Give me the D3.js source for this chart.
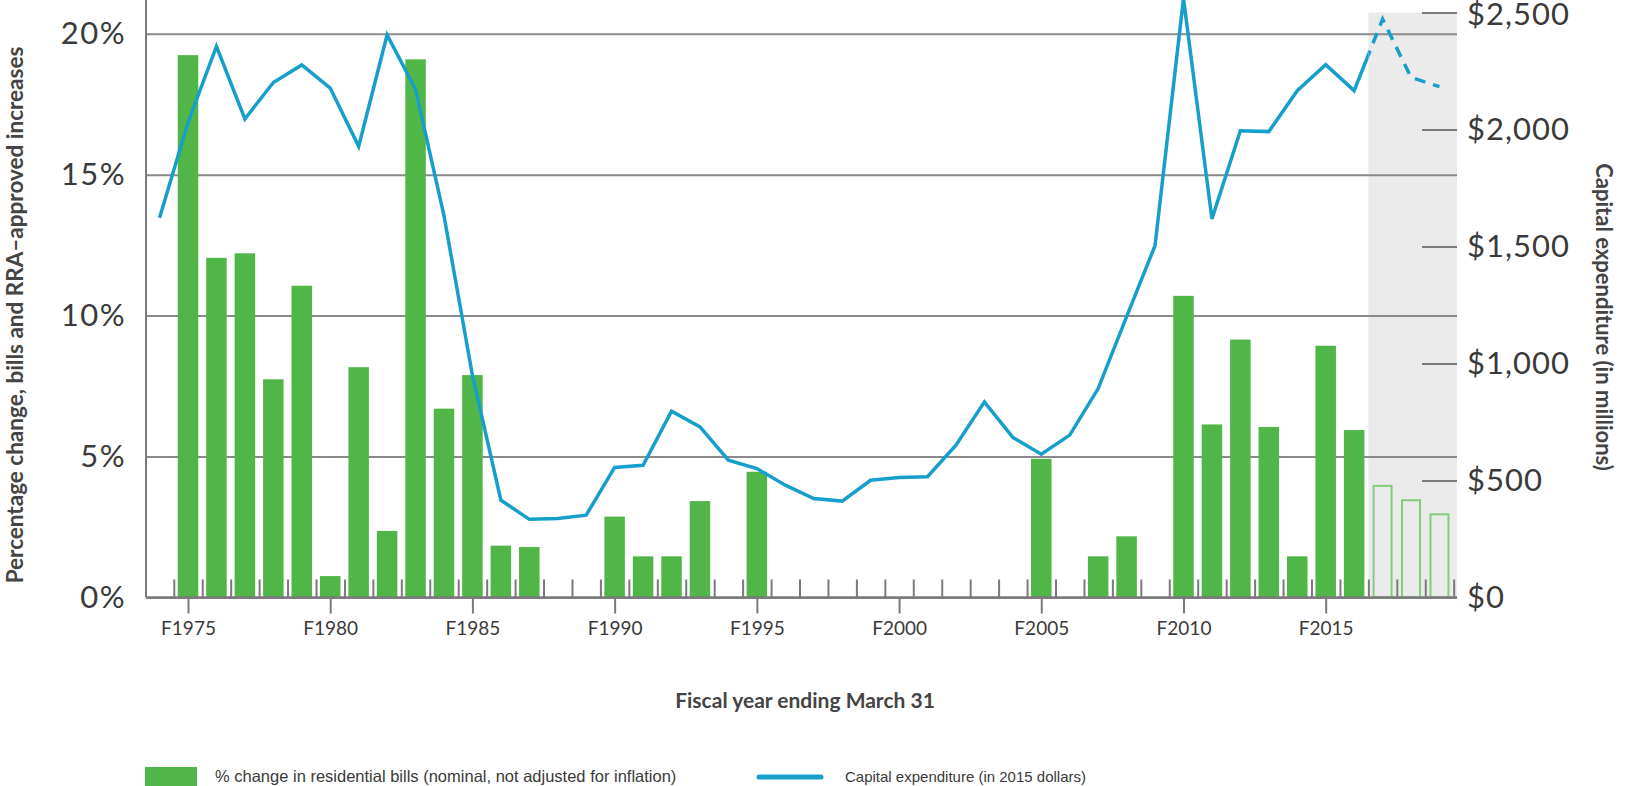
<!DOCTYPE html>
<meta charset="utf-8">
<script src="https://d3js.org/d3.v7.min.js"></script>
<style>
  body { margin: 0; background: #fff; }
  text { font-family: Lato, "Open Sans", sans-serif; fill: #3a3a3a; }
</style>
<div id="my_dataviz"></div>
<script>

  // fiscal years and % change in residential bills (forecast years last)
  var barYears = [1975, 1976, 1977, 1978, 1979, 1980, 1981, 1982, 1983, 1984, 1985, 1986, 1987,
                  1990, 1991, 1992, 1993, 1995, 2005, 2007, 2008, 2010, 2011, 2012, 2013, 2014,
                  2015, 2016, 2017, 2018, 2019];
  var billChange = [19.24, 12.05, 12.21, 7.74, 11.06, 0.76, 8.17, 2.36, 19.09, 6.70, 7.89, 1.84, 1.79,
                    2.87, 1.46, 1.46, 3.42, 4.46, 4.92, 1.46, 2.17, 10.7, 6.14, 9.15, 6.05, 1.46,
                    8.93, 5.94, 3.96, 3.45, 2.95];
  var forecastFrom = 2016.5;

  // capital expenditure, $ millions (2015 dollars)
  var capexYears = d3.range(1974, 2020);
  var capex = [1623, 2030, 2355, 2045, 2201, 2276, 2177, 1928, 2404, 2172, 1632, 950, 416, 334,
               338, 352, 556, 565, 796, 729, 587, 551, 480, 423, 412, 501, 513, 516, 651, 836,
               684, 612, 694, 893, 1200, 1504, 2560, 1618, 1995, 1991, 2166, 2277, 2166, 2472,
               2223, 2183];

  var pctTicks = [0, 5, 10, 15, 20];
  var dollarTicks = [0, 500, 1000, 1500, 2000, 2500];
  var majorYears = [1975, 1980, 1985, 1990, 1995, 2000, 2005, 2010, 2015];
  var minorYears = d3.range(1974.5, 2020, 1);

  var width = 1646, height = 786;
  var left = 146, right = 1457, base = 597.5;

  var svg = d3.select("#my_dataviz")
    .append("svg")
      .attr("width", width)
      .attr("height", height);

  var x = d3.scaleLinear().domain([1975, 2015]).range([188, 1325.7]);
  var yPct = d3.scaleLinear().domain([0, 20]).range([base, 33.7]);
  var yCap = d3.scaleLinear().domain([0, 2500]).range([base, 12.5]);

  // forecast shading
  svg.append("rect")
    .attr("x", x(forecastFrom))
    .attr("y", yCap(2500))
    .attr("width", right - x(forecastFrom))
    .attr("height", base - yCap(2500))
    .style("fill", "#ebebeb");

  // left axis with gridlines
  var gy = svg.append("g")
    .attr("transform", "translate(" + left + ",0)")
    .call(d3.axisLeft(yPct).tickValues(pctTicks).tickSize(-(right - left)).tickPadding(20)
      .tickFormat(function(d) { return d + "%"; }));
  gy.select(".domain").remove();
  gy.selectAll("line").style("stroke", "#8a8a8a").style("stroke-width", 2);
  gy.selectAll("text").style("font-size", "31px").style("fill", "#3a3a3a").style("letter-spacing", "1.5px");

  svg.append("line")
    .attr("x1", left).attr("x2", left).attr("y1", 0).attr("y2", base)
    .style("stroke", "#7a7a7a").style("stroke-width", 2);

  // right axis
  var gr = svg.append("g")
    .attr("transform", "translate(1422,0)")
    .call(d3.axisRight(yCap).tickValues(dollarTicks).tickSize(35).tickPadding(10)
      .tickFormat(d3.format("$,")));
  gr.select(".domain").remove();
  gr.selectAll("line").style("stroke", "#7a7a7a").style("stroke-width", 2)
    .filter(function(d) { return d === 0; }).remove();
  gr.selectAll("text").style("font-size", "31px").style("fill", "#3a3a3a").style("letter-spacing", "1px")
    .filter(function(d) { return d === 2500; }).attr("dy", "0.38em");

  // bars
  var bars = barYears.map(function(yr, i) { return {year: yr, value: billChange[i]}; });
  svg.selectAll(".bar")
    .data(bars.filter(function(d) { return d.year < forecastFrom; }))
    .enter()
    .append("rect")
      .attr("class", "bar")
      .attr("x", function(d) { return x(d.year) - 10.25; })
      .attr("width", 20.5)
      .attr("y", function(d) { return yPct(d.value); })
      .attr("height", function(d) { return base - yPct(d.value); })
      .style("fill", "#50b647");

  svg.selectAll(".fbar")
    .data(bars.filter(function(d) { return d.year > forecastFrom; }))
    .enter()
    .append("rect")
      .attr("class", "fbar")
      .attr("x", function(d) { return x(d.year) - 9; })
      .attr("width", 18)
      .attr("y", function(d) { return yPct(d.value); })
      .attr("height", function(d) { return base - yPct(d.value); })
      .style("fill", "none")
      .style("stroke", "#83cc7c")
      .style("stroke-width", 2);

  // x axis: baseline, major ticks down, minor ticks up
  var gx = svg.append("g")
    .attr("transform", "translate(0," + base + ")")
    .call(d3.axisBottom(x).tickValues(majorYears).tickSize(16).tickPadding(8)
      .tickFormat(function(d) { return "F" + d; }));
  gx.select(".domain").remove();
  gx.selectAll("line").style("stroke", "#7a7a7a").style("stroke-width", 2);
  gx.selectAll("text").style("font-size", "19px").style("fill", "#3a3a3a");

  var gm = svg.append("g")
    .attr("transform", "translate(0," + base + ")")
    .call(d3.axisTop(x).tickValues(minorYears).tickSize(18).tickFormat(""));
  gm.select(".domain").remove();
  gm.selectAll("line").style("stroke", "#7a7a7a").style("stroke-width", 2);

  svg.append("line")
    .attr("x1", left).attr("x2", right).attr("y1", base).attr("y2", base)
    .style("stroke", "#7a7a7a").style("stroke-width", 2.5);

  // capital expenditure line: solid for actuals, dashed for forecast
  var pts = capexYears.map(function(yr, i) { return [yr, capex[i]]; });
  var line = d3.line()
    .x(function(d) { return x(d[0]); })
    .y(function(d) { return yCap(d[1]); });

  var defs = svg.append("defs");
  defs.append("clipPath").attr("id", "clipActual")
    .append("rect").attr("x", 0).attr("y", -50).attr("width", x(forecastFrom)).attr("height", height + 50);
  defs.append("clipPath").attr("id", "clipForecast")
    .append("rect").attr("x", x(forecastFrom)).attr("y", -50).attr("width", width).attr("height", height + 50);

  svg.append("path")
    .datum(pts)
    .attr("d", line)
    .attr("clip-path", "url(#clipActual)")
    .style("fill", "none")
    .style("stroke", "#179fcc")
    .style("stroke-width", 3.5)
    .style("stroke-linejoin", "miter");

  svg.append("path")
    .datum(pts.filter(function(d) { return d[0] >= 2016; }))
    .attr("d", line)
    .attr("clip-path", "url(#clipForecast)")
    .style("fill", "none")
    .style("stroke", "#179fcc")
    .style("stroke-width", 3.5)
    .style("stroke-dasharray", "11,8")
    .style("stroke-dashoffset", 6);

  // axis titles
  svg.append("text")
    .attr("transform", "translate(23,315) rotate(-90)")
    .attr("text-anchor", "middle")
    .style("font-size", "22.5px")
    .style("font-weight", "bold")
    .style("fill", "#444")
    .text("Percentage change, bills and RRA–approved increases");

  svg.append("text")
    .attr("transform", "translate(1596,317) rotate(90)")
    .attr("text-anchor", "middle")
    .style("font-size", "22px")
    .style("font-weight", "bold")
    .style("fill", "#444")
    .text("Capital expenditure (in millions)");

  svg.append("text")
    .attr("x", 805)
    .attr("y", 708)
    .attr("text-anchor", "middle")
    .style("font-size", "21px")
    .style("font-weight", "bold")
    .style("fill", "#444")
    .text("Fiscal year ending March 31");

  // legend
  svg.append("rect")
    .attr("x", 145).attr("y", 767).attr("width", 52).attr("height", 19)
    .style("fill", "#50b647");
  svg.append("text")
    .attr("x", 215).attr("y", 782)
    .style("font-family", "'Liberation Sans Narrow', sans-serif")
    .style("font-size", "16.5px")
    .text("% change in residential bills (nominal, not adjusted for inflation)");

  svg.append("line")
    .attr("x1", 759).attr("x2", 821).attr("y1", 777).attr("y2", 777)
    .style("stroke", "#179fcc").style("stroke-width", 5).style("stroke-linecap", "round");
  svg.append("text")
    .attr("x", 845).attr("y", 782)
    .style("font-family", "'Liberation Sans Narrow', sans-serif")
    .style("font-size", "15px")
    .text("Capital expenditure (in 2015 dollars)");

</script>
